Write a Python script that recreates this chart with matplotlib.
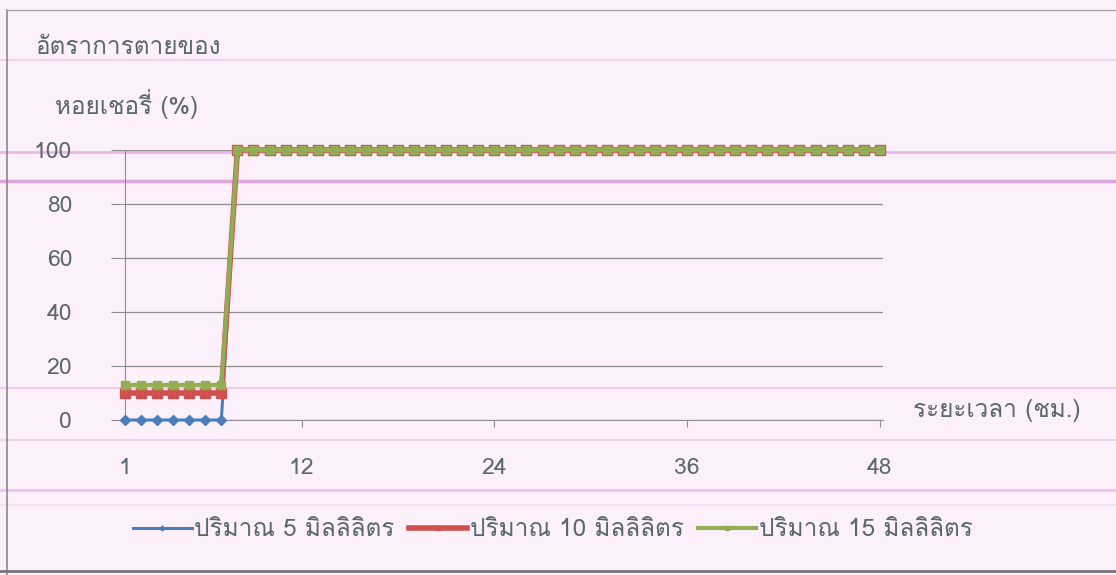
import matplotlib
matplotlib.use("Agg")
import matplotlib.pyplot as plt
from matplotlib import font_manager
from matplotlib.ft2font import FT2Font
from matplotlib.lines import Line2D

# ------------------------------------------------------------
# data: mortality (%) per hour, 3 doses
# ------------------------------------------------------------
hours = list(range(1, 49))
dose_5ml = [0] * 7 + [100] * 41
dose_10ml = [10] * 7 + [100] * 41
dose_15ml = [13] * 7 + [100] * 41

series_labels = ["ปริมาณ 5 มิลลิลิตร", "ปริมาณ 10 มิลลิลิตร", "ปริมาณ 15 มิลลิลิตร"]
x_ticks = [1, 12, 24, 36, 48]
y_ticks = [0, 20, 40, 60, 80, 100]
y_title = ["อัตราการตายของ", "หอยเชอรี่ (%)"]
x_title = "ระยะเวลา (ชม.)"


def find_thai_family():
    """Pick an installed font family that has Thai glyphs."""
    for f in font_manager.fontManager.ttflist:
        try:
            cmap = FT2Font(f.fname).get_charmap()
        except Exception:
            continue
        if ord("อ") in cmap and ord("ิ") in cmap:
            return f.name
    return None


thai = find_thai_family()
families = [thai, "DejaVu Sans"] if thai else ["DejaVu Sans"]
plt.rcParams["font.family"] = families

text_col = "#5a6670"
bg = "#fcf0fa"

fig = plt.figure(figsize=(11.16, 5.75), dpi=100, facecolor=bg)
ax = fig.add_axes([125 / 1116, 155 / 575, 758 / 1116, 270 / 575])
ax.set_facecolor("none")

# scan stripes and chart frame
for yy, c, lw in [(152, "#e9b8e6", 2.0), (181, "#dfa6dc", 2.5), (60, "#f3d2f0", 1.5),
                  (388, "#f1ccee", 1.5), (440, "#f3d3f0", 1.5), (490, "#eec4eb", 2.0),
                  (505, "#f6dcf4", 1.2)]:
    fig.add_artist(Line2D([0, 1], [1 - yy / 575] * 2, color=c, lw=lw, zorder=0))
fig.add_artist(Line2D([7 / 1116, 7 / 1116], [0, 1 - 10 / 575], color="#8a8a8a", lw=1.2))
fig.add_artist(Line2D([7 / 1116, 1], [1 - 10 / 575] * 2, color="#b0a0b0", lw=1.0))
fig.add_artist(Line2D([0, 1], [1 - 571 / 575] * 2, color="#777777", lw=2.0))

ax.plot(hours, dose_5ml, color="#4a7ebb", lw=2.2, marker="D", ms=5,
        label=series_labels[0], clip_on=False, zorder=3)
ax.plot(hours, dose_10ml, color="#d0504d", lw=4.0, marker="s", ms=7,
        label=series_labels[1], clip_on=False, zorder=4)
ax.plot(hours, dose_15ml, color="#93ad55", lw=3.0, marker="s", ms=5.5,
        label=series_labels[2], clip_on=False, zorder=5)

ax.set_xlim(1, 48.2)
ax.set_ylim(0, 100)
ax.set_yticks(y_ticks)
ax.set_xticks(x_ticks)
ax.yaxis.grid(True, color="#8e8e8e", lw=0.9)
ax.set_axisbelow(True)

for s in ["top", "right"]:
    ax.spines[s].set_visible(False)
ax.spines["left"].set_color("#8e8e8e")
ax.spines["bottom"].set_color("#8e8e8e")

ax.tick_params(axis="y", length=10, color="#8e8e8e", pad=28,
               labelsize=16.5, labelcolor=text_col)
ax.tick_params(axis="x", length=5, color="#8e8e8e", pad=22,
               labelsize=16.5, labelcolor=text_col)
ax.xaxis.get_major_ticks()[0].tick1line.set_visible(False)

fig.text(35 / 1116, 1 - 47 / 575, y_title[0], fontsize=17.5, color=text_col, va="center")
fig.text(55 / 1116, 1 - 104 / 575, y_title[1], fontsize=17.5, color=text_col, va="center")
fig.text(913 / 1116, 1 - 410 / 575, x_title, fontsize=17.5, color=text_col, va="center")

fig.legend(loc="center", bbox_to_anchor=(553 / 1116, 1 - 530 / 575), ncol=3,
           frameon=False, fontsize=17.5, labelcolor=text_col, handlelength=2.4,
           handletextpad=0.1, columnspacing=0.6, markerscale=0.5)

fig.savefig("out.png", dpi=100, facecolor=bg)
